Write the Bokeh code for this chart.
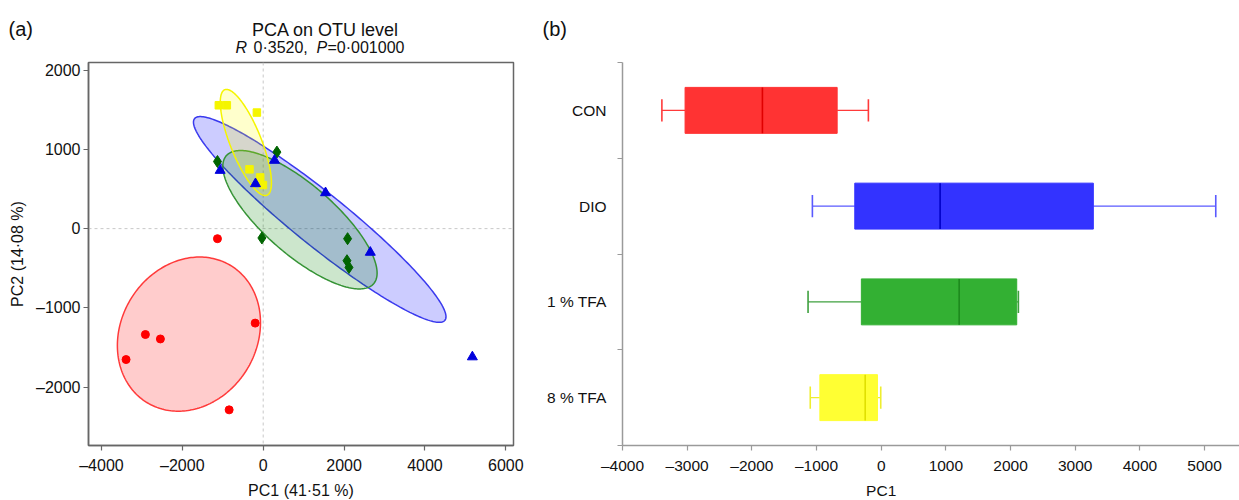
import numpy as np
from bokeh.plotting import figure
from bokeh.models import Range1d, FixedTicker, Span, Label
from bokeh.layouts import row, column
from bokeh.embed import file_html
from bokeh.resources import INLINE

# ---------------- data ----------------
groups = ["CON", "DIO", "1 % TFA", "8 % TFA"]

con_pc1 = [-1131, -198, -2913, -2542, -3391, -842]
con_pc2 = [-127, -1193, -1337, -1393, -1653, -2288]
dio_pc1 = [-1064, 280, -190, 1542, 2649, 5173]
dio_pc2 = [734, 861, 566, 452, -300, -1620]
tfa1_pc1 = [-1131, 339, -32, 2087, 2072, 2121]
tfa1_pc2 = [847, 966, -118, -127, -405, -490]
tfa8_pc1 = [-1097, -899, -156, -339, -74, -7]
tfa8_pc2 = [1557, 1557, 1465, 748, 646, 550]

pca_x_ticks = [-4000, -2000, 0, 2000, 4000, 6000]
pca_y_ticks = [-2000, -1000, 0, 1000, 2000]
box_x_ticks = [-4000, -3000, -2000, -1000, 0, 1000, 2000, 3000, 4000, 5000]

title_a = "PCA on OTU level"
x_label_a = "PC1 (41\u00b751 %)"
y_label_a = "PC2 (14\u00b708 %)"
x_label_b = "PC1"
ellipse_level = 0.68

# ---------------- styles ----------------
FONT = "Liberation Sans"
TXT = "#111111"
AX = "#666666"
AXB = "#9a9a9a"
marker_style = {
    "CON": dict(marker="circle", size=8, color="#FF0000"),
    "DIO": dict(marker="triangle", size=10, color="#0000DD"),
    "1 % TFA": dict(marker="diamond", size=12, color="#006400"),
    "8 % TFA": dict(marker="square", size=7.5, color="#F5F500"),
}
ell_style = {
    "CON": dict(fill="#FF0000", line="#FF3A3A"),
    "DIO": dict(fill="#0000FF", line="#3A3AEE"),
    "1 % TFA": dict(fill="#008000", line="#359335"),
    "8 % TFA": dict(fill="#FFFF00", line="#F5F500"),
}
box_style = {
    "CON": dict(fill="#FF3333", med="#E00000", wh="#FF3A3A"),
    "DIO": dict(fill="#3333FF", med="#0000C8", wh="#5A5AFF"),
    "1 % TFA": dict(fill="#33B033", med="#1E8A1E", wh="#3FA03F"),
    "8 % TFA": dict(fill="#FFFF33", med="#E0E000", wh="#EEEE30"),
}

data = {
    "CON": (con_pc1, con_pc2),
    "DIO": (dio_pc1, dio_pc2),
    "1 % TFA": (tfa1_pc1, tfa1_pc2),
    "8 % TFA": (tfa8_pc1, tfa8_pc2),
}


def dash(t):
    return str(t).replace("-", "\u2013")


W1, W2 = 540, 699
WT = W1 + W2
HH, HM, HF = 60, 419, 20   # header / main / footer heights
P1_LEFT, P1_RIGHT = 88, 27
P2_LEFT = 82


def strip(fig):
    fig.grid.visible = False
    fig.outline_line_color = None
    fig.background_fill_color = "white"
    fig.border_fill_color = "white"
    return fig


def text_fig(width, height):
    f = figure(width=width, height=height, output_backend="svg", toolbar_location=None,
               title=None, x_range=Range1d(0, width), y_range=Range1d(height, 0),
               x_axis_location=None, y_axis_location=None, min_border=0)
    return strip(f)


def lab(fig, x, y, text, size, align="left", style="normal", baseline="alphabetic"):
    fig.add_layout(Label(x=x, y=y, text=text, text_font=FONT, text_font_size=size,
                         text_font_style=style, text_color=TXT, text_align=align,
                         text_baseline=baseline))


# ---------------- panel (a) ----------------
xr1 = Range1d(-4320, 6190)
p1 = figure(width=W1, height=HM, output_backend="svg", toolbar_location=None,
            title=None, x_range=xr1, y_range=Range1d(-2738, 2097),
            min_border_left=P1_LEFT, min_border_right=P1_RIGHT, min_border_top=2,
            min_border_bottom=34)
strip(p1)
p1.outline_line_color = AX
p1.outline_line_width = 1.5

for ax, ticks in ((p1.xaxis[0], pca_x_ticks), (p1.yaxis[0], pca_y_ticks)):
    ax.ticker = FixedTicker(ticks=ticks)
    ax.major_label_overrides = {t: dash(t) for t in ticks}
    ax.axis_line_color = AX
    ax.axis_line_width = 1.5
    ax.major_tick_line_color = AX
    ax.major_tick_line_width = 1.2
    ax.major_tick_out = 5
    ax.major_tick_in = 0
    ax.minor_tick_line_color = None
    ax.major_label_text_font = FONT
    ax.major_label_text_font_size = "16px"
    ax.major_label_text_color = TXT
    ax.major_label_standoff = 3
p1.xaxis[0].major_label_standoff = 6
p1.yaxis[0].axis_label = y_label_a
p1.yaxis[0].axis_label_text_font = FONT
p1.yaxis[0].axis_label_text_font_size = "16px"
p1.yaxis[0].axis_label_text_font_style = "normal"
p1.yaxis[0].axis_label_text_color = TXT
p1.yaxis[0].axis_label_standoff = 7

p1.add_layout(Span(location=0, dimension="height", line_color="#c8c8c8",
                   line_dash="3 3", line_width=1, level="underlay"))
p1.add_layout(Span(location=0, dimension="width", line_color="#c8c8c8",
                   line_dash="3 3", line_width=1, level="underlay"))

c = np.sqrt(-2.0 * np.log(1.0 - ellipse_level))
t = np.linspace(0, 2 * np.pi, 240)
for g in ["CON", "DIO", "1 % TFA", "8 % TFA"]:
    xs, ys = np.array(data[g][0], float), np.array(data[g][1], float)
    cov = np.cov(np.vstack([xs, ys]), bias=True)
    vals, vecs = np.linalg.eigh(cov)
    pts = vecs @ (np.vstack([np.cos(t), np.sin(t)]) * np.sqrt(vals)[:, None] * c)
    st = ell_style[g]
    p1.patch(xs.mean() + pts[0], ys.mean() + pts[1], fill_color=st["fill"],
             fill_alpha=0.2, line_color=st["line"], line_width=1.5)

for g in ["8 % TFA", "1 % TFA", "DIO", "CON"]:
    ms = marker_style[g]
    p1.scatter(data[g][0], data[g][1], marker=ms["marker"], size=ms["size"],
               fill_color=ms["color"], line_color=ms["color"])

# ---------------- panel (b) ----------------
n = len(groups)
xr2 = Range1d(-4000, 5540)
p2 = figure(width=W2, height=HM, output_backend="svg", toolbar_location=None,
            title=None, x_range=xr2, y_range=Range1d(0, n),
            min_border_left=P2_LEFT, min_border_right=0, min_border_top=2,
            min_border_bottom=34)
strip(p2)

xa = p2.xaxis[0]
xa.ticker = FixedTicker(ticks=box_x_ticks)
xa.major_label_overrides = {t: dash(t) for t in box_x_ticks}
ya = p2.yaxis[0]
centers = [n - i - 0.5 for i in range(n)]
ya.ticker = FixedTicker(ticks=centers, minor_ticks=list(range(n + 1)))
ya.major_label_overrides = {cy: g for cy, g in zip(centers, groups)}
for ax in (xa, ya):
    ax.axis_line_color = AXB
    ax.axis_line_width = 1.5
    ax.major_tick_line_color = AXB
    ax.major_tick_line_width = 1.2
    ax.major_tick_out = 5
    ax.major_tick_in = 0
    ax.major_label_text_font = FONT
    ax.major_label_text_font_size = "15.5px"
    ax.major_label_text_color = TXT
xa.major_label_standoff = 6
xa.minor_tick_line_color = None
ya.major_tick_line_color = None
ya.major_label_standoff = 11
ya.minor_tick_line_color = AXB
ya.minor_tick_line_width = 1.2
ya.minor_tick_out = 5
ya.minor_tick_in = 0

box_h = 0.48
cap_h = 0.23
for g, cy in zip(groups, centers):
    vals = np.array(data[g][0], float)
    q1, med, q3 = np.percentile(vals, [25, 50, 75], method="weibull")
    lo, hi = vals.min(), vals.max()
    st = box_style[g]
    p2.segment(x0=[lo, q3], y0=[cy, cy], x1=[q1, hi], y1=[cy, cy],
               line_color=st["wh"], line_width=1.3)
    p2.segment(x0=[lo, hi], y0=[cy - cap_h / 2] * 2, x1=[lo, hi], y1=[cy + cap_h / 2] * 2,
               line_color=st["wh"], line_width=1.6)
    p2.hbar(y=[cy], left=[q1], right=[q3], height=box_h, fill_color=st["fill"],
            line_color=st["fill"], line_width=1)
    p2.segment(x0=[med], y0=[cy - box_h / 2], x1=[med], y1=[cy + box_h / 2],
               line_color=st["med"], line_width=1.6)

# ---------------- header / footer text strips ----------------
top = text_fig(WT, HH)
lab(top, 8, 28, "(a)", "20px")
lab(top, 325, 29, title_a, "18px", align="center")
for txt, sx, style in [("R", 235, "italic"), ("0\u00b73520,", 253, "normal"),
                       ("P", 316, "italic"), ("=0\u00b7001000", 327, "normal")]:
    lab(top, sx, 46.5, txt, "16px", style=style)
lab(top, W1 + 2, 28, "(b)", "20px")

bottom = text_fig(WT, HF)
# x positions of the axis titles follow each panel's own x scale
p1_frame_w = W1 - P1_LEFT - P1_RIGHT
p2_frame_w = W2 - P2_LEFT
xa_pos = P1_LEFT + p1_frame_w / 2
xb_pos = W1 + P2_LEFT + (0 - xr2.start) / (xr2.end - xr2.start) * p2_frame_w
lab(bottom, xa_pos, 11, x_label_a, "16px", align="center", baseline="middle")
lab(bottom, xb_pos, 11, x_label_b, "15.5px", align="center", baseline="middle")

layout = column(top, row(p1, p2), bottom)
open("out.html", "w").write(file_html(layout, INLINE))
